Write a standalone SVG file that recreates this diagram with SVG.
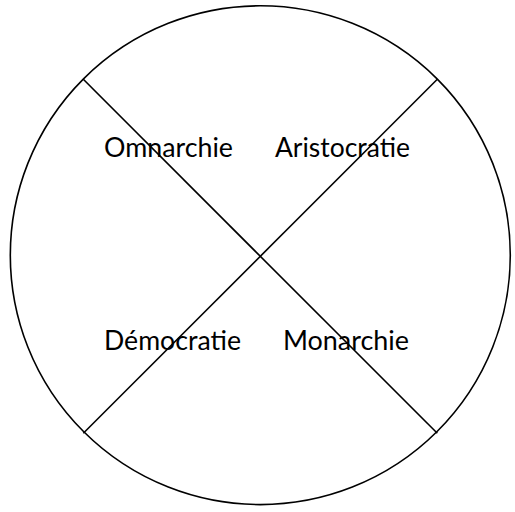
<svg xmlns="http://www.w3.org/2000/svg" width="515" height="512" viewBox="0 0 515 512">
<style>
.s{fill:none;stroke:#000;stroke-width:1.6}
.t{font-family:Lato,"Open Sans","Liberation Sans",sans-serif;font-size:27px;fill:#000}
</style>
<rect width="515" height="512" fill="#fff"/>
<g id="circle"><ellipse class="s" cx="260.3" cy="255.2" rx="250" ry="249.4"/></g>
<g id="connectors">
<line class="s" x1="83.3" y1="79.3" x2="437.3" y2="433.3"/>
<line class="s" x1="437.3" y1="79.3" x2="83.3" y2="433.3"/>
</g>
<g id="omnarchie"><text class="t" x="104" y="157" textLength="129" lengthAdjust="spacingAndGlyphs">Omnarchie</text></g>
<g id="aristocratie"><text class="t" x="275" y="157" textLength="135" lengthAdjust="spacingAndGlyphs">Aristocratie</text></g>
<g id="democratie"><text class="t" x="104" y="350" textLength="137" lengthAdjust="spacingAndGlyphs">Démocratie</text></g>
<g id="monarchie"><text class="t" x="283" y="350" textLength="126" lengthAdjust="spacingAndGlyphs">Monarchie</text></g>
</svg>
